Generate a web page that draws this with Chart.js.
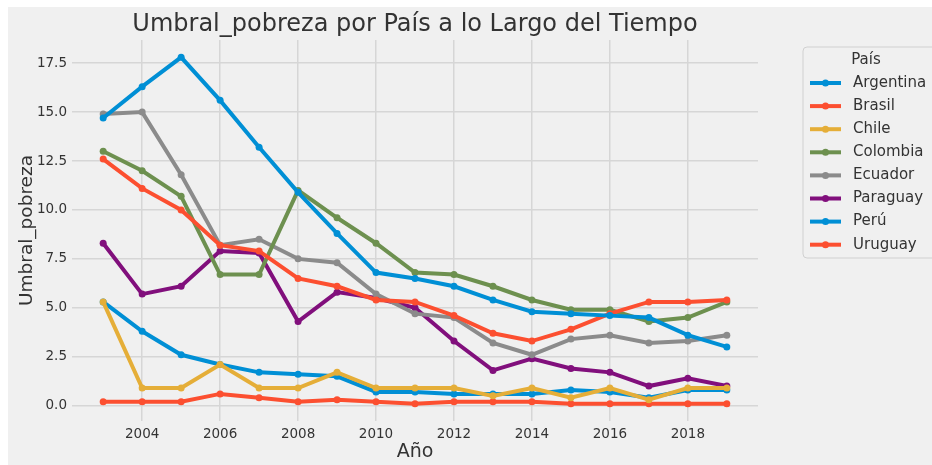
<!DOCTYPE html>
<html>
<head>
<meta charset="utf-8">
<script src="https://cdn.jsdelivr.net/npm/chart.js@4.4.1/dist/chart.umd.min.js"></script>
<style>
  html, body { margin: 0; padding: 0; background: #ffffff; }
  #wrap { position: absolute; left: 8px; top: 7px; width: 924px; height: 458px; background: #f0f0f0; }
  canvas { display: block; }
</style>
</head>
<body>
<div id="wrap"><canvas id="chart" width="924" height="458"></canvas></div>
<script>
// datos
const years = [2003, 2004, 2005, 2006, 2007, 2008, 2009, 2010, 2011, 2012, 2013, 2014, 2015, 2016, 2017, 2018, 2019];
const argentina = [14.7, 16.3, 17.8, 15.6, 13.2, 10.9, 8.8, 6.8, 6.5, 6.1, 5.4, 4.8, 4.7, 4.6, 4.5, 3.6, 3.0];
const brasil    = [12.6, 11.1, 10.0, 8.2, 7.9, 6.5, 6.1, 5.4, 5.3, 4.6, 3.7, 3.3, 3.9, 4.7, 5.3, 5.3, 5.4];
const chile     = [5.3, 0.9, 0.9, 2.1, 0.9, 0.9, 1.7, 0.9, 0.9, 0.9, 0.5, 0.9, 0.4, 0.9, 0.3, 0.9, 0.9];
const colombia  = [13.0, 12.0, 10.7, 6.7, 6.7, 11.0, 9.6, 8.3, 6.8, 6.7, 6.1, 5.4, 4.9, 4.9, 4.3, 4.5, 5.3];
const ecuador   = [14.9, 15.0, 11.8, 8.2, 8.5, 7.5, 7.3, 5.7, 4.7, 4.5, 3.2, 2.6, 3.4, 3.6, 3.2, 3.3, 3.6];
const paraguay  = [8.3, 5.7, 6.1, 7.9, 7.8, 4.3, 5.8, 5.5, 5.0, 3.3, 1.8, 2.4, 1.9, 1.7, 1.0, 1.4, 1.0];
const peru      = [5.3, 3.8, 2.6, 2.1, 1.7, 1.6, 1.5, 0.7, 0.7, 0.6, 0.6, 0.6, 0.8, 0.7, 0.4, 0.8, 0.8];
const uruguay   = [0.2, 0.2, 0.2, 0.6, 0.4, 0.2, 0.3, 0.2, 0.1, 0.2, 0.2, 0.2, 0.1, 0.1, 0.1, 0.1, 0.1];

const paises = ['Argentina', 'Brasil', 'Chile', 'Colombia', 'Ecuador', 'Paraguay', 'Perú', 'Uruguay'];
const series = [argentina, brasil, chile, colombia, ecuador, paraguay, peru, uruguay];
const colores = ['#008fd5', '#fc4f30', '#e5ae38', '#6d904f', '#8b8b8b', '#810f7c', '#008fd5', '#fc4f30'];

const xTicks = [2004, 2006, 2008, 2010, 2012, 2014, 2016, 2018];
const yTicks = [0, 2.5, 5, 7.5, 10, 12.5, 15, 17.5];

const FONT = "'DejaVu Sans', sans-serif";
const TXT = '#333333';

const datasets = paises.map((p, i) => ({
    label: p,
    data: years.map((y, j) => ({ x: y, y: series[i][j] })),
    borderColor: colores[i],
    backgroundColor: colores[i],
    pointBackgroundColor: colores[i],
    pointBorderColor: colores[i],
    borderWidth: 4,
    pointRadius: 3.5,
    pointBorderWidth: 0,
    tension: 0
}));

// título y leyenda al estilo matplotlib
const extras = {
    id: 'extras',
    afterDraw(chart) {
        const ctx = chart.ctx;
        const a = chart.chartArea;
        ctx.save();
        ctx.fillStyle = TXT;
        ctx.font = '24px ' + FONT;
        ctx.textAlign = 'center';
        ctx.textBaseline = 'middle';
        ctx.fillText('Umbral_pobreza por País a lo Largo del Tiempo', (a.left + a.right) / 2, 18);

        // leyenda
        const lx = a.right + 45, ly = 40, lw = 150, lh = 211;
        ctx.beginPath();
        ctx.roundRect(lx, ly, lw, lh, 4);
        ctx.fillStyle = '#f0f0f0';
        ctx.fill();
        ctx.strokeStyle = '#d0d0d0';
        ctx.lineWidth = 1;
        ctx.stroke();

        ctx.fillStyle = TXT;
        ctx.font = '15px ' + FONT;
        ctx.textAlign = 'center';
        ctx.fillText('País', lx + 63, ly + 13);
        ctx.textAlign = 'left';
        paises.forEach((p, i) => {
            const y = ly + 36 + i * 23.1;
            ctx.strokeStyle = colores[i];
            ctx.lineWidth = 4;
            ctx.beginPath();
            ctx.moveTo(lx + 7, y);
            ctx.lineTo(lx + 38, y);
            ctx.stroke();
            ctx.fillStyle = colores[i];
            ctx.beginPath();
            ctx.arc(lx + 22.5, y, 3.5, 0, Math.PI * 2);
            ctx.fill();
            ctx.fillStyle = TXT;
            ctx.fillText(p, lx + 50, y);
        });
        ctx.restore();
    }
};

new Chart(document.getElementById('chart'), {
    type: 'line',
    data: { datasets },
    plugins: [extras],
    options: {
        responsive: false,
        animation: false,
        layout: { padding: { left: 0, top: 33, right: 174, bottom: 0 } },
        plugins: { legend: { display: false }, tooltip: { enabled: false }, title: { display: false } },
        scales: {
            x: {
                type: 'linear',
                min: 2002.2,
                max: 2019.8,
                afterBuildTicks: s => { s.ticks = xTicks.map(v => ({ value: v })); },
                afterFit: s => { s.height = 44; },
                grid: { color: '#d6d6d6', lineWidth: 1.5, drawTicks: false },
                border: { display: false },
                ticks: { color: TXT, font: { family: FONT, size: 13.5 }, padding: 5, callback: v => String(v), maxRotation: 0 },
                title: { display: true, text: 'Año', color: TXT, font: { family: FONT, size: 19 }, padding: { top: 0, bottom: 2 } }
            },
            y: {
                min: -0.785,
                max: 18.685,
                afterBuildTicks: s => { s.ticks = yTicks.map(v => ({ value: v })); },
                afterFit: s => { s.width = 64; },
                grid: { color: '#d6d6d6', lineWidth: 1.5, drawTicks: false },
                border: { display: false },
                ticks: { color: TXT, font: { family: FONT, size: 13.5 }, padding: 5, callback: v => v.toFixed(1) },
                title: { display: true, text: 'Umbral_pobreza', color: TXT, font: { family: FONT, size: 18.5 }, padding: { top: 8, bottom: 0 } }
            }
        }
    }
});
</script>
</body>
</html>
